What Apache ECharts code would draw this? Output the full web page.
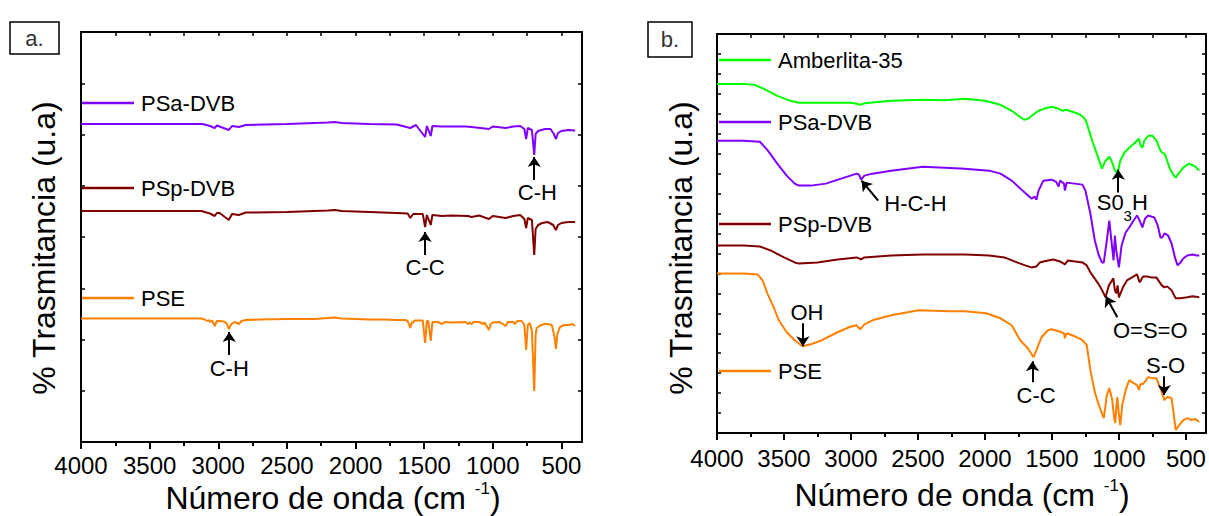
<!DOCTYPE html>
<html><head><meta charset="utf-8">
<script src="https://cdn.jsdelivr.net/npm/echarts@6/dist/echarts.min.js"></script>
<style>html,body{margin:0;padding:0;background:#fff}#c{width:1209px;height:516px}</style>
</head><body><div id="c"></div>
<script>
// ---- tick labels (wavenumber, cm-1) ----
const majorTicks = [4000, 3500, 3000, 2500, 2000, 1500, 1000, 500];
const minorTicks = [3750, 3250, 2750, 2250, 1750, 1250, 750];
const allTicks = [4000, 3750, 3500, 3250, 3000, 2750, 2500, 2250, 2000, 1750, 1500, 1250, 1000, 750, 500];

// ---- panel a: [wavenumber, transmittance a.u.] ----
const aPSaDVB = [[4000,318],[3120,318],[3100,317.5],[3060,316],[3026,314],[3010,316.5],[2923,312],[2900,316],[2850,315],[2800,317],[2500,318],[2200,319.5],[2150,320],[2100,319],[1900,318],[1700,317.5],[1601,314],[1560,317],[1493,305],[1480,316],[1452,306],[1440,316],[1370,315.5],[1200,315.5],[1154,315],[1028,313],[1000,315.5],[906,314],[850,315.5],[800,316],[770,313],[757,303],[745,314],[715,312],[698,287],[688,308],[670,311],[620,313],[580,313],[555,308],[540,303],[525,309],[500,311],[450,312],[400,311.5]];
const aPSpDVB = [[4000,231],[3120,231],[3100,230],[3060,228.5],[3026,226],[3010,229],[2990,229],[2923,222],[2900,228],[2850,227],[2800,229.5],[2500,230],[2200,231.5],[2150,232],[2100,231],[1900,230],[1700,229],[1620,228.5],[1601,224],[1580,228],[1510,228],[1493,215],[1480,227],[1452,217],[1440,227],[1370,226],[1300,226.5],[1181,226],[1154,225],[1100,226.5],[1028,223],[1000,226],[906,224],[850,226],[800,227],[770,223],[757,214],[745,224],[715,222],[698,187],[688,213],[670,217],[640,219],[600,220],[560,217],[540,212],[525,217],[500,219],[450,220],[400,220]];
const aPSE = [[4000,123.5],[3500,123.5],[3120,123.5],[3100,122.5],[3082,121],[3070,122],[3060,120],[3045,121.5],[3026,116],[3010,121],[2990,121],[2960,120.5],[2940,119],[2923,113],[2905,118],[2880,120],[2850,118],[2830,121],[2800,122],[2700,122.5],[2500,123],[2300,123],[2200,124],[2150,124.5],[2100,123.5],[2000,123],[1900,122.5],[1800,122.5],[1700,122],[1640,122],[1620,121],[1601,114],[1590,120],[1583,119],[1570,121.5],[1510,121.5],[1493,99],[1480,121],[1470,121],[1452,101],[1440,120],[1400,120],[1370,118],[1350,120],[1300,119.5],[1200,120],[1181,118],[1170,119.5],[1154,118],[1140,120],[1100,120],[1069,118],[1060,119.5],[1028,112],[1015,118],[1000,119.5],[950,120],[906,116],[890,120],[850,120],[842,118],[820,121],[790,121],[770,117],[757,92],[745,117],[730,119],[715,111],[698,51],[688,107],[680,114],[650,117],[620,118],[600,118],[570,117],[550,105],[540,93],[530,108],[510,115],[480,117],[450,117],[420,118],[400,116]];

// ---- panel b ----
const bAmberlita = [[4000,350],[3800,350],[3720,349],[3650,345],[3550,338],[3450,333],[3390,331],[3200,331],[3000,331],[2957,330],[2930,329],[2900,330.5],[2700,333],[2465,334],[2300,333.5],[2150,335],[2000,333],[1884,329],[1800,323],[1740,317],[1708,314],[1680,315],[1640,319],[1600,323],[1560,325],[1503,327],[1450,325],[1420,323],[1392,324],[1350,322],[1302,320],[1260,316],[1243,312],[1200,293],[1160,278],[1127,265],[1100,273],[1071,277],[1050,271],[1030,263],[1008,261],[990,273],[960,281],[923,286],[880,291],[852,295],[838,288],[825,286],[810,293],[781,298],[750,298],[720,293],[690,283],[677,281],[660,280],[647,276],[620,265],[590,258],[576,256],[550,261],[519,266],[480,270],[460,269],[430,267],[400,263]];
const bPSaDVB = [[4000,293],[3800,293],[3680,292],[3620,283],[3550,270],[3480,258],[3420,250],[3390,248],[3300,248],[3188,250],[3050,256],[2957,260],[2940,259],[2925,254],[2900,258],[2840,260],[2700,263],[2465,267],[2300,266],[2150,265],[1969,263],[1884,260],[1800,253],[1720,243],[1653,235],[1630,237],[1615,234],[1600,243],[1564,253],[1503,254],[1470,252],[1450,247],[1440,253],[1410,250],[1403,243],[1390,251],[1330,250],[1272,249],[1250,243],[1213,220],[1180,193],[1150,178],[1127,171],[1113,171],[1090,193],[1072,213],[1060,198],[1040,173],[1030,198],[1020,183],[1000,166],[980,188],[950,201],[923,206],[890,213],[865,218],[845,213],[825,206],[805,215],[781,218],[760,217],[735,216],[710,208],[690,196],[677,196],[660,200],[633,198],[607,190],[580,175],[562,168],[540,171],[520,175],[490,178],[450,179],[420,178],[400,178]];
const bPSpDVB = [[4000,188],[3800,188],[3680,187],[3600,183],[3500,176],[3420,171],[3390,170],[3250,171],[3100,174],[2957,176],[2925,174],[2900,176],[2700,178],[2465,179],[2150,179],[1969,178],[1854,176],[1780,172],[1700,168],[1653,166],[1615,167],[1590,171],[1564,172],[1490,174],[1440,172],[1403,169],[1380,173],[1272,171],[1240,168],[1213,161],[1155,150],[1125,143],[1100,136],[1075,148],[1042,155],[1030,143],[1019,140],[1010,148],[1000,136],[970,146],[940,153],[865,159],[845,151],[820,157],[790,157],[760,156],[721,156],[680,148],[661,146],[640,147],[607,143],[576,135],[540,135],[490,136],[450,137],[400,136]];
const bPSE = [[4000,160],[3800,160],[3697,159],[3660,153],[3624,140],[3580,127],[3538,113],[3480,101],[3420,93],[3362,87],[3300,89],[3217,93],[3100,101],[3015,106],[2960,108],[2930,104],[2900,109],[2840,113],[2700,118],[2495,123],[2263,122],[2150,122],[1990,120],[1884,115],[1800,108],[1737,93],[1680,85],[1637,76],[1610,85],[1578,96],[1530,103],[1503,104],[1450,102],[1410,100],[1403,95],[1390,100],[1330,97],[1272,93],[1240,88],[1213,63],[1180,41],[1155,30],[1130,21],[1113,15],[1090,38],[1071,45],[1050,33],[1035,15],[1027,10],[1018,28],[1012,36],[1000,18],[990,8],[975,28],[950,43],[923,53],[890,50],[865,48],[850,43],[840,49],[820,49],[781,56],[750,55],[721,55],[690,45],[661,33],[640,36],[607,35],[590,18],[576,3],[550,8],[519,13],[490,15],[460,13],[430,14],[400,11]];

const FONT = '"Liberation Sans", Arial, sans-serif';
const C_GREEN = '#00FF00', C_PURPLE = '#8000FF', C_RED = '#800000', C_ORANGE = '#FF8000';

function xAxes(grid, labelMargin) {
  const base = {gridIndex: grid, type: 'value', min: 350, max: 4000, inverse: true, splitLine: {show: false}};
  const line = {show: true, onZero: false, lineStyle: {color: '#000', width: 2}};
  return [
    Object.assign({}, base, {position: 'bottom', axisLine: line,
      axisTick: {show: true, customValues: majorTicks, length: 7, lineStyle: {color: '#000', width: 2}},
      axisLabel: {show: true, customValues: majorTicks, margin: labelMargin, fontSize: 24, fontFamily: FONT, color: '#000',
        formatter: v => String(v)}}),
    Object.assign({}, base, {position: 'bottom', axisLine: {show: false, onZero: false},
      axisTick: {show: true, customValues: minorTicks, length: 4, lineStyle: {color: '#000', width: 2}},
      axisLabel: {show: false}}),
    Object.assign({}, base, {position: 'top', axisLine: line,
      axisTick: {show: true, inside: true, customValues: allTicks, length: 4, lineStyle: {color: '#000', width: 1.5}},
      axisLabel: {show: false}})
  ];
}
function yAxes(grid, max, interval) {
  const base = {gridIndex: grid, type: 'value', min: 0, max: max, interval: interval, splitLine: {show: false},
    axisLabel: {show: false}, axisLine: {show: true, onZero: false, lineStyle: {color: '#000', width: 2}},
    axisTick: {show: true, inside: true, length: 4, lineStyle: {color: '#000', width: 1.5}}};
  return [Object.assign({}, base, {position: 'left'}), Object.assign({}, base, {position: 'right'})];
}
function legend(name, left, top) {
  return {show: true, data: [name], left: left, top: top, orient: 'horizontal', padding: 0,
    icon: 'rect', itemWidth: 52, itemHeight: 2.5, selectedMode: false,
    textStyle: {fontSize: 22, fontFamily: FONT, color: '#000', lineHeight: 24, padding: [0, 0, 0, 2]}};
}
function arrows(list) {
  return {silent: true, symbol: ['none', 'arrow'], symbolSize: 10, symbolKeepAspect: true,
    lineStyle: {color: '#000', width: 2, type: 'solid'}, itemStyle: {color: '#000'}, label: {show: false},
    emphasis: {disabled: true}, animation: false,
    data: list.map(a => [{coord: a[0], itemStyle: {color: '#000'}}, {coord: a[1], itemStyle: {color: '#000'}}])};
}
function texts(list) {
  return {silent: true, symbol: 'rect', symbolSize: 1, itemStyle: {color: 'rgba(0,0,0,0)'},
    label: {show: true, position: 'inside', color: '#000', fontSize: 22, fontFamily: FONT, lineHeight: 40,
      formatter: p => p.name,
      rich: {sub: {fontSize: 15, lineHeight: 15, verticalAlign: 'bottom', fontFamily: FONT, color: '#000'}}},
    data: list.map(t => ({name: t[0], coord: t[1]}))};
}
function ser(name, color, xi, yi, data, extra) {
  return Object.assign({type: 'line', name: name, xAxisIndex: xi, yAxisIndex: yi, data: data,
    showSymbol: false, symbol: 'none', lineStyle: {color: color, width: 2}, itemStyle: {color: color},
    emphasis: {disabled: true}, animation: false}, extra || {});
}
const titleStyle = {fontFamily: FONT, fill: '#000', align: 'center', verticalAlign: 'middle', textAlign: 'center', textVerticalAlign: 'middle'};
function xTitle(x, y) {
  return {type: 'text', x: x, y: y, style: Object.assign({}, titleStyle, {text: 'Número de onda (cm {sup|-1})', fontSize: 32, lineHeight: 37,
    rich: {sup: {fontSize: 17, lineHeight: 17, verticalAlign: 'top', fontFamily: FONT, fill: '#000', color: '#000'}}})};
}

const chart = echarts.init(document.getElementById('c'), null, {renderer: 'svg'});
chart.setOption({
  animation: false,
  backgroundColor: '#fff',
  grid: [
    {left: 81, top: 32, width: 501, height: 410},
    {left: 717, top: 34, width: 489, height: 399}
  ],
  xAxis: xAxes(0, 11).concat(xAxes(1, 13)),
  yAxis: yAxes(0, 410, 51.25).concat(yAxes(1, 400, 20)),
  legend: [
    legend('PSa-DVB', 82, 91), legend('PSp-DVB', 82, 176), legend('PSE', 82, 286),
    legend('Amberlita-35', 719, 48), legend('PSa-DVB', 719, 110), legend('PSp-DVB', 719, 212), legend('PSE', 719, 359)
  ],
  series: [
    ser('PSa-DVB', C_PURPLE, 0, 0, aPSaDVB),
    ser('PSp-DVB', C_RED, 0, 0, aPSpDVB),
    ser('PSE', C_ORANGE, 0, 0, aPSE, {
      markLine: arrows([[[698, 262], [698, 285]], [[1493, 187], [1493, 210]], [[2920, 87], [2920, 110]]]),
      markPoint: texts([['C-H', [675, 250]], ['C-C', [1493, 175]], ['C-H', [2920, 74]]])
    }),
    ser('Amberlita-35', C_GREEN, 3, 2, bAmberlita),
    ser('PSa-DVB', C_PURPLE, 3, 2, bPSaDVB),
    ser('PSp-DVB', C_RED, 3, 2, bPSpDVB),
    ser('PSE', C_ORANGE, 3, 2, bPSE, {
      markLine: arrows([
        [[1005, 241], [1005, 264]],
        [[2797, 233], [2921, 253]],
        [[1012, 116], [1098, 137]],
        [[3359, 110], [3359, 87]],
        [[1645, 51], [1645, 72]],
        [[662, 57], [662, 38]]
      ]),
      markPoint: texts([
        ['S0{sub|3}H', [975, 231]],
        ['H-C-H', [2519, 230]],
        ['O=S=O', [766, 103]],
        ['OH', [3329, 121]],
        ['C-C', [1618, 38]],
        ['S-O', [651, 68]]
      ])
    })
  ],
  graphic: [
    {type: 'rect', shape: {x: 10, y: 22, width: 49, height: 32}, style: {fill: '#fff', stroke: '#000', lineWidth: 1.5}},
    {type: 'text', x: 34.5, y: 38, style: Object.assign({}, titleStyle, {text: 'a.', fontSize: 22, fill: '#333'})},
    {type: 'rect', shape: {x: 648, y: 22, width: 44, height: 35}, style: {fill: '#fff', stroke: '#000', lineWidth: 1.5}},
    {type: 'text', x: 670, y: 39.5, style: Object.assign({}, titleStyle, {text: 'b.', fontSize: 22, fill: '#333'})},
    {type: 'text', x: 44, y: 248, rotation: Math.PI / 2, style: Object.assign({}, titleStyle, {text: '% Trasmitancia (u.a)', fontSize: 32})},
    {type: 'text', x: 681, y: 248, rotation: Math.PI / 2, style: Object.assign({}, titleStyle, {text: '% Trasmitancia (u.a)', fontSize: 32})},
    xTitle(333, 498),
    xTitle(962, 495)
  ]
});
</script>
</body></html>
